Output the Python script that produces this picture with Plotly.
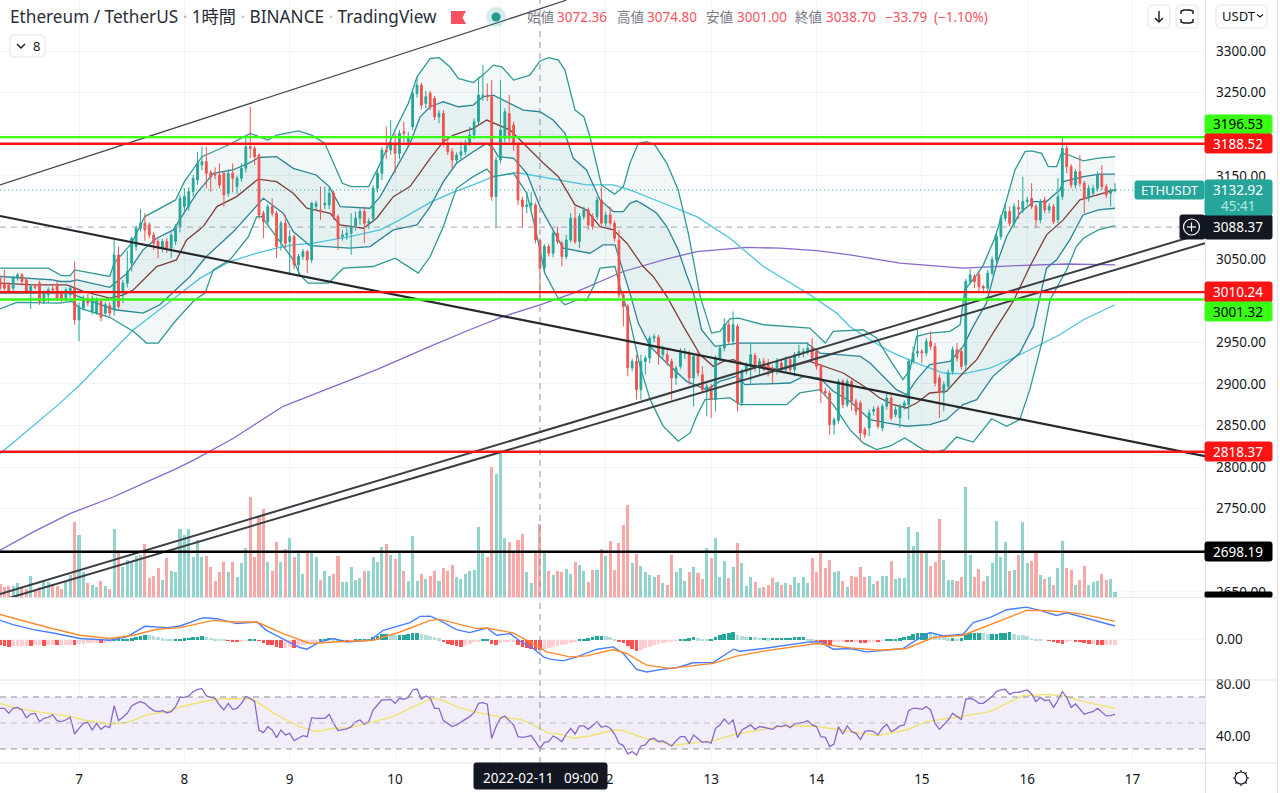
import math
import pandas as pd
import plotly.graph_objects as go

# ETHUSDT 1h candles, one value per hour from 2022-02-06 06:00
opens = [3027,3021,3019,3015,3027,3031,3025,3009,3017,3021,
         2999,3007,3014,3019,3009,3003,3007,3015,2977,2991,
         3003,2987,2985,3001,2985,2994,2989,3055,3009,3021,
         3045,3065,3087,3093,3091,3079,3071,3063,3071,3063,
         3071,3089,3113,3113,3131,3145,3163,3167,3154,3152,
         3151,3153,3129,3153,3137,3147,3159,3185,3183,3175,
         3105,3095,3113,3105,3071,3093,3071,3077,3043,3053,
         3059,3049,3113,3109,3115,3115,3129,3101,3077,3079,
         3081,3089,3099,3107,3093,3099,3135,3153,3181,3181,
         3189,3177,3203,3191,3209,3249,3259,3237,3249,3243,
         3221,3225,3189,3179,3169,3175,3179,3189,3199,3215,
         3245,3247,3245,3125,3169,3195,3225,3211,3187,3121,
         3113,3115,3115,3072.36,3039,3065,3057,3081,3069,3053,
         3073,3099,3071,3101,3109,3101,3101,3121,3093,3103,
         3093,3073,3007,2993,2919,2927,2893,2927,2931,2955,
         2956,2935,2935,2927,2907,2921,2937,2937,2907,2933,
         2911,2893,2897,2881,2931,2943,2971,2951,2969,2877,
         2915,2921,2934,2919,2927,2925,2919,2915,2925,2917,
         2929,2917,2935,2937,2939,2943,2939,2921,2891,2889,
         2851,2856,2903,2875,2903,2879,2877,2845,2847,2867,
         2871,2847,2873,2883,2863,2859,2873,2875,2927,2937,
         2939,2937,2951,2945,2907,2889,2897,2915,2941,2939,
         2923,3023,3029,3031,3017,3015,3033,3049,3077,3099,
         3107,3093,3112,3109,3119,3123,3113,3097,3121,3109,
         3113,3097,3125,3183,3161,3139,3155,3141,3123,3129,
         3135,3151,3137,3129,3132.5]
closes = [3015,3015,3011,3027,3031,3023,3011,3017,3016,2999,
          3009,3013,3013,3003,3001,3013,3015,2977,2993,3003,
          2997,3003,3001,2980,2995,2985,3055,2993,3021,3035,
          3075,3087,3093,3085,3079,3069,3063,3071,3063,3079,
          3089,3123,3125,3131,3147,3165,3167,3153,3149,3151,
          3139,3127,3153,3147,3147,3159,3185,3183,3173,3103,
          3095,3113,3105,3065,3093,3069,3077,3043,3053,3059,
          3049,3117,3117,3107,3117,3129,3101,3075,3079,3081,
          3089,3099,3107,3093,3095,3135,3153,3181,3179,3189,
          3177,3201,3201,3197,3249,3259,3235,3245,3233,3221,
          3225,3189,3179,3169,3175,3179,3189,3199,3215,3247,
          3247,3245,3125,3169,3205,3227,3195,3187,3121,3113,
          3115,3117,3073,3038.7,3065,3057,3081,3071,3053,3073,
          3099,3071,3101,3109,3091,3089,3121,3093,3103,3093,
          3075,3007,2993,2919,2927,2893,2927,2931,2955,2957,
          2935,2943,2927,2907,2919,2937,2939,2907,2933,2913,
          2893,2897,2881,2931,2943,2971,2951,2971,2877,2915,
          2923,2935,2919,2927,2919,2919,2915,2927,2917,2929,
          2917,2935,2939,2939,2943,2931,2921,2891,2889,2851,
          2857,2903,2875,2903,2879,2867,2841,2839,2865,2869,
          2849,2873,2883,2859,2869,2873,2877,2927,2937,2939,
          2937,2951,2945,2901,2889,2899,2913,2941,2931,2921,
          3023,3031,3023,3017,3015,3033,3049,3077,3099,3107,
          3093,3113,3110,3119,3121,3113,3097,3119,3109,3113,
          3095,3125,3183,3161,3139,3155,3141,3123,3135,3135,
          3151,3137,3127,3133,3132.92]
highs = [3030,3037,3022,3030,3033,3033,3027,3020,3019,3024,
         3012,3016,3019,3023,3012,3016,3019,3047,2998,3006,
         3008,3006,3004,3003,2998,2998,3075,3065,3025,3060,
         3077,3090,3110,3105,3094,3082,3074,3074,3075,3082,
         3092,3127,3135,3136,3151,3179,3185,3185,3157,3160,
         3165,3156,3158,3165,3150,3165,3197,3233,3186,3177,
         3108,3116,3123,3108,3096,3103,3085,3080,3056,3062,
         3061,3119,3120,3137,3137,3137,3132,3104,3085,3090,
         3105,3107,3111,3113,3099,3139,3157,3185,3209,3217,
         3201,3205,3215,3203,3253,3269,3262,3252,3252,3246,
         3229,3229,3197,3183,3178,3191,3193,3209,3219,3269,
         3283,3261,3265,3173,3265,3231,3247,3215,3190,3125,
         3131,3131,3118,3074.8,3068,3068,3085,3089,3072,3079,
         3105,3113,3105,3113,3112,3105,3125,3137,3107,3113,
         3096,3085,3010,2996,2930,2935,2935,2934,2958,2960,
         2959,2946,2940,2930,2922,2943,2943,2940,2936,2939,
         2921,2900,2900,2934,2947,2979,2975,2987,2972,2918,
         2926,2949,2937,2931,2931,2930,2923,2931,2929,2933,
         2933,2938,2947,2943,2950,2955,2942,2924,2895,2892,
         2860,2906,2906,2906,2905,2882,2880,2848,2869,2873,
         2874,2876,2889,2889,2873,2876,2880,2930,2945,2965,
         2942,2955,2963,2949,2911,2903,2917,2945,2949,2943,
         3026,3038,3032,3035,3019,3037,3053,3081,3103,3117,
         3113,3117,3121,3149,3125,3141,3116,3122,3125,3117,
         3116,3147,3196,3187,3164,3158,3175,3144,3139,3139,
         3155,3163,3140,3135,3141]
lows = [3012,3012,3008,3010,3024,3018,3008,2990,3013,2995,
        2996,2997,3008,3000,2998,2999,3003,2971,2951,2988,
        2993,2983,2983,2975,2982,2981,2982,2990,2997,3016,
        3035,3060,3083,3072,3075,3061,3051,3058,3057,3051,
        3067,3082,3105,3108,3125,3139,3157,3135,3131,3146,
        3135,3113,3125,3130,3128,3143,3154,3171,3163,3098,
        3075,3090,3101,3051,3060,3063,3031,3038,3031,3049,
        3033,3045,3108,3097,3110,3110,3097,3061,3072,3073,
        3055,3084,3091,3069,3086,3094,3130,3145,3170,3175,
        3153,3170,3190,3185,3205,3244,3230,3231,3229,3217,
        3213,3185,3175,3159,3165,3170,3175,3186,3194,3211,
        3240,3240,3120,3087,3165,3190,3191,3180,3115,3087,
        3105,3110,3069,3001,3033,3053,3052,3068,3041,3050,
        3070,3068,3063,3097,3085,3085,3097,3090,3089,3090,
        3071,3003,2969,2909,2915,2881,2881,2911,2925,2950,
        2923,2930,2922,2881,2899,2918,2930,2899,2873,2909,
        2889,2861,2859,2867,2927,2939,2947,2947,2867,2873,
        2911,2899,2915,2910,2915,2909,2901,2911,2913,2913,
        2913,2909,2931,2932,2935,2927,2917,2877,2885,2839,
        2839,2852,2871,2872,2868,2862,2831,2835,2837,2862,
        2846,2843,2869,2856,2860,2847,2869,2857,2924,2932,
        2925,2933,2941,2897,2859,2867,2893,2911,2927,2917,
        2917,3020,3015,3010,3009,3011,3030,3045,3073,3095,
        3089,3089,3098,3105,3115,3110,3087,3093,3105,3105,
        3092,3093,3121,3153,3135,3135,3137,3105,3119,3125,
        3131,3133,3123,3113,3130]
volumes = [40,32,35,35,42,32,25,65,20,32,
           52,45,40,35,25,50,68,227,188,75,
           43,37,30,48,35,25,205,142,92,112,
           108,125,127,160,58,65,88,53,118,80,
           77,205,188,205,122,172,120,125,92,50,
           77,107,77,105,60,102,148,302,120,245,
           265,105,80,167,105,145,178,120,140,70,
           140,140,122,52,80,65,70,125,45,47,
           90,53,58,80,80,120,105,152,160,127,
           115,140,80,50,183,50,70,55,65,80,
           48,88,80,98,62,55,70,80,82,212,
           138,122,390,370,443,178,165,138,172,190,
           77,43,132,220,138,78,68,78,76,85,
           70,105,98,78,47,82,82,145,125,170,
           83,162,217,277,102,130,95,75,68,62,
           68,42,37,128,75,87,50,75,90,72,
           55,148,118,177,60,110,58,92,164,102,
           35,60,45,27,32,38,58,47,37,44,
           38,62,42,60,42,118,75,140,87,112,
           75,80,50,30,65,60,92,60,65,40,
           48,65,65,110,55,57,58,210,155,195,
           135,135,95,107,236,112,52,53,48,62,
           332,128,62,85,48,65,102,228,120,165,
           80,82,128,225,102,110,133,68,55,60,
           38,88,170,88,82,38,53,93,37,45,
           48,70,52,55,17]
macd_hist = [-5,-5.5,-6.5,-6,-6,-5.5,-5.5,-6,-5,-5,
             -5.5,-5,-4.5,-5,-4.5,-4.5,-4.5,-5,-4,-3.5,
             -3,-3,-2.5,-3,-2.5,-1,0.5,0.5,1,1.5,
             2,3,4.5,5.5,5,4,3,2,1,0.5,
             0.5,1.5,2,2.5,3,3.5,4,3,2.5,1.5,
             1,0.5,-0.5,-1,-1.5,-1,-0.5,0.5,1,-0.5,
             -3,-4.5,-5,-7,-7.5,-7.5,-7,-8,-5.5,-4.5,
             -3.5,-2,-1.5,0.5,1,2.5,2,0.5,-0.5,-1,
             -0.5,0.5,1,1,1.5,3,4.5,6,6.5,6,
             5,5.5,5.5,6,7,7,6,5.5,4.5,3.5,
             2,-2,-3.5,-5,-6,-6.5,-5,-3.5,-2,-1,
             1,1,-3.5,-5,-3,-2,-1.5,-1.5,-5,-6.5,
             -8,-8.5,-9.5,-10,-9,-8,-7,-6,-5,-3.5,
             -2.5,-1,0.5,1.5,2,3,4.5,4.5,4,3,
             1.5,-1,-3,-6,-8.5,-10.5,-9.5,-8,-6.5,-5,
             -3.5,-2.5,-2,-1.5,-0.5,1,1.5,2,3,2,
             1.5,1,1,3.5,5,6.5,7,8,5,4,
             3.5,3.5,3,2.5,2.5,2,2.5,2.5,2.5,2.5,
             2.5,3,3,3,1.5,0.5,-0.5,-2,-4,-4.5,
             -2,-1.5,-1,-1.5,-2,-2,-2.5,-3,-1.5,-1,
             -2,-0.5,0.5,1,1,2,3,4,6,7,
             7,7.5,7,5,4,3,2,2,1.5,2,
             6,7,7.5,7.5,7,6,6,6,7,7.5,
             8,6,5.5,5,4,2.5,1,0.5,0,-0.5,
             -2,-3,-3.5,-0.8,-0.5,-1,-2,-3,-4,-4,
             -4.5,-5,-5,-5,-5]
rsi = [61.3,61.3,57.4,61.3,62,60,54.1,56.9,57.4,51,
       53.6,54.4,56.2,51.8,51,52.3,54.4,41.5,45.9,49.7,
       50.5,44.6,49.7,45.1,47.7,46.4,63.3,51.8,54.4,57.4,
       63.1,65.1,66.4,65.1,62,59.5,58.7,59.5,57.9,58.7,
       62.6,69.7,69.7,70.8,74.1,75.9,76.4,70.8,69.7,69,
       63.8,60,65.1,60.5,61.3,65.1,70.3,69,66.4,44.6,
       42.6,47.2,44.6,38.7,44.6,40.8,42,36.4,38.2,40.3,
       39.5,54.1,53.6,53.6,53.6,56.7,49.7,44.1,44.6,45.4,
       47.2,51,52.3,49,51,60,63.8,67.7,67.7,68.2,
       65.1,69,68.2,69.7,75.4,76.1,68.2,70.8,69,61.3,
       61.3,51.8,49.7,47.2,48.5,50.5,52.8,54.9,57.9,65.1,
       65.6,64.4,38.2,47.2,53.6,55.4,51.8,48.5,39.5,39,
       39.5,40.3,35.6,30.5,35.1,35.6,40,38.2,35.6,41.5,
       45.9,41.5,47.7,47.7,45.1,47.7,51,46.7,47.7,45.9,
       41.5,34.4,32.6,26.2,28,25.4,32.3,33.1,37.4,38.2,
       35.6,36.2,34.4,32.3,36.2,39.5,39.5,34.4,40.8,38.2,
       35.1,35.6,34.4,45.9,48.5,53.1,49.2,52.3,38.7,44.6,
       46.4,48.5,45.1,47.2,46.7,45.9,45.1,47.7,47.2,48.5,
       46.4,49.2,49.7,50.5,51.8,48.5,47.2,39.5,39,31.8,
       33.8,47.2,41.5,47.7,43.3,42,37.4,43.3,44.1,43.3,
       40.8,45.9,49,43.3,45.1,47.7,48.5,59.5,61.3,61.3,
       60.5,62.6,60,49.7,45.1,48.5,52.3,57.4,54.9,52.8,
       68.2,69,67.7,65.1,65.1,67.7,70.3,74.1,75.4,75.9,
       72,73.6,73.6,74.6,75.4,72.3,66.4,69.7,67.2,67.7,
       61.8,67.7,74.1,69.7,62,64.6,60.5,56.7,57.9,58.7,
       61.3,58.7,55.4,55.6,56.7]

# indicator lines, read at the bends: hour index since the first bar, then value
outer_up_i = [0,11,14,16,17,25,26,30,33,40,42,46,52,57,61,63,68,71,74,78,80,84,87,90,93,95,98,100,102.5,104.4,
              107.8,110,112.4,114.3,117,120.7,123,125,127.2,128.7,131,133,134.4,137,140,142,143.5,145.4,147.3,149.2,
              151.9,154.5,156.8,159.5,162.1,164,166.3,168.2,173.9,182.2,184.5,188,189.8,196.6,199.7,202.7,205.7,207.3,208.8,211.8,
              216.4,218.7,219.8,222.5,224,226.6,229.3,231.2,233.5,235,237.3,238.8,240.7,241.8,243.5,246.8,249.8,254]
outer_up = [3039,3039,3030,3030,3037,3029,3045,3069,3101,3121,3143,3173,3187,3201,3193,3199,3204,3199,3189,3141,3137,3137,3169,3205,3237,3269,3291,3292,3281,3267,
            3262,3271,3283,3281,3265,3271,3288,3292,3289,3277,3229,3221,3197,3139,3128,3137,3165,3189,3191,3187,
            3165,3133,3081,3005,2961,2963,2978,2979,2971,2968,2967,2949,2963,2965,2955,2929,2905,2917,2957,2961,
            2963,2971,3013,3031,3043,3075,3121,3157,3179,3180,3177,3161,3161,3177,3175,3168,3171,3173]
inner_up_i = [0,12,13.7,16,17.5,25,29,32.6,35.7,39.5,41.4,44.8,48.6,53,56.6,59,63,66.8,72,75,77.5,84.3,86.6,89.6,93.4,95.7,98,101,104.4,107.8,
              110,112.4,116.2,119.2,123,126,128.7,130.6,133.6,135.2,136.7,139.7,142,143.5,145,147.3,149.6,151.9,154.5,156.4,
              158,159.8,162.9,168.2,183.8,186.8,196,198.2,201.2,204.2,206.5,208.8,211.8,216.4,219.4,221.7,224.7,227,229.3,232.3,
              235.4,238.4,241.4,242.2,246.8,250.5,254]
inner_up = [3029,3025,3023,3023,3025,3016,3033,3061,3075,3085,3101,3129,3153,3157,3165,3172,3173,3159,3151,3137,3113,3111,3125,3153,3189,3221,3233,3239,3233,3235,
            3245,3247,3237,3229,3227,3217,3201,3171,3157,3139,3121,3107,3107,3117,3120,3113,3105,3089,3061,3031,
            3009,2965,2945,2949,2949,2937,2933,2925,2909,2893,2887,2905,2923,2927,2945,2969,2997,3043,3077,3105,
            3119,3119,3133,3143,3149,3152,3152]
basis_i = [0,7.6,15.2,19,25,28.1,30.4,35.7,40.2,42.5,46.3,49.4,53.9,58.8,63,66.8,69.9,75.2,77.4,82.8,85.8,89.6,93.4,98,
           101,103.3,107.8,110.9,116.2,120,123.8,127.2,131,133.6,136.7,139.7,142.8,146.5,148.8,151.9,
           155.7,159.5,162.5,164.8,167,170.1,177.7,184.5,186.8,192.1,197.4,200.4,203.5,206.5,208.8,211.8,215.6,219.4,222.5,226.2,
           230.8,234.6,238.4,242.2,246,249.8,254]
basis = [3021,3019,3019,3011,3003,3007,3013,3041,3049,3073,3089,3113,3125,3146,3143,3129,3111,3105,3091,3087,3099,3125,3137,3171,
         3191,3199,3207,3217,3205,3185,3165,3149,3115,3109,3089,3085,3069,3041,3029,3005,
         2969,2935,2921,2927,2929,2923,2917,2927,2923,2913,2895,2883,2875,2871,2877,2889,2891,2913,2929,2961,
         2999,3041,3079,3097,3121,3127,3133]
inner_low_i = [0,6.8,13.7,16.3,17.8,25,26.2,32.6,36.4,43.3,47,53.2,60,64.5,66.8,70.6,79.7,84.3,89.6,95,98,101,104,107.8,110.9,112.4,113.5,117,120,123,
               126,128.3,134.4,137.4,140.1,143.5,145.4,148.1,151.1,156.4,161,164,167.8,169.7,180,183,186.8,189.8,193.6,198.2,
               202,206.5,211.8,215.6,219.4,222.5,226.2,232.3,235.4,238.4,240.7,243.7,246.7,250.2,254]
inner_low = [3009,3009,3009,3009,3005,2991,2989,2985,2995,3029,3053,3083,3123,3105,3083,3066,3063,3065,3085,3091,3113,3143,3165,3179,3189,3183,3173,3171,3153,3113,
             3085,3063,3057,3067,3067,3009,2973,2945,2929,2903,2893,2903,2909,2899,2901,2909,2907,2891,2879,2857,
             2853,2849,2851,2857,2875,2881,2909,2937,2969,3039,3049,3073,3103,3109,3111]
outer_low_i = [0,3.8,13.7,16.3,18.2,25,30.4,33.4,36,40.2,44.4,46.7,48.6,52.4,56.6,58.5,59.6,62.3,66.8,68.3,70.2,74.8,78.2,85,90,95.3,98,101,104,107.8,
               110.9,112.4,117,120,122.2,124.1,127.2,128.7,131.4,133.6,135.2,136.7,140.1,141.6,143.1,145.8,148.1,151.1,154.5,157.2,
               158.7,160.6,166.3,168.6,179.2,182.2,186.8,189.8,193.6,196.6,199.7,202.7,206.1,210.3,212.6,215.2,217.9,221.7,225.9,229.3,
               232.3,234.6,237.3,239.2,243,245.2,246.8,250.2,254]
outer_low = [2990,2998,2997,2999,2991,2980,2963,2949,2949,2977,3001,3009,3037,3049,3077,3101,3101,3081,3049,3031,3021,3021,3039,3041,3051,3033,3053,3089,3135,3149,
             3158,3149,3153,3129,3081,3033,3002,2995,3001,3000,3017,3039,3041,3009,2985,2921,2881,2849,2831,2841,
             2861,2881,2883,2875,2875,2889,2893,2875,2845,2829,2821,2825,2835,2821,2817,2821,2836,2830,2858,2849,
             2857,2893,2949,3001,3037,3065,3075,3085,3090]
ma_cyan_i = [0,13.3,18.2,30.4,40.2,45.6,52.4,58.5,63,66.8,71.4,79.7,86.6,91.1,98,103.6,107.8,112.4,117.7,126.8,133.6,139.7,143.5,151.1,158.7,166.3,173.9,184.5,190.6,193.6,
             198.2,202.7,208.8,214.9,219.4,225.5,230.8,236.9,241.4,246.8,254]
ma_cyan = [2816,2875,2899,2965,3005,3027,3047,3057,3063,3067,3069,3077,3085,3097,3118,3131,3139,3149,3154,3145,3139,3139,3133,3117,3101,3075,3041,3007,2985,2969,
           2953,2939,2925,2913,2912,2919,2931,2947,2959,2977,2995]
ma_purple_i = [0,7.6,15.9,25.8,34.2,40.2,44,53,64.5,76,85.8,98,107,114.7,123,130.6,142,151.1,158.7,170,177.7,186,193.6,205,219.4,231.6,243,254]
ma_purple = [2700,2722,2744,2764,2784,2798,2808,2834,2873,2897,2917,2945,2965,2981,2995,3009,3035,3049,3059,3064,3063,3060,3055,3045,3039,3042,3044,3043]
macd_i = [0,3,7.6,12.1,18.2,25,28.9,33,38,41,46.3,49.4,53.9,58.5,60.7,64.5,68.3,69.9,72.9,75.9,79,84.3,87.3,93.4,95.7,98,
          100.2,104,107,110.9,113.1,116.2,118.5,121.5,123.8,125.3,128.3,131.4,136,139.7,142,145,147.3,151.1,154.1,157.9,162.5,167.1,168.6,173.9,184.5,186.8,189.8,193.6,
          197.4,200.4,205.7,209.9,211.8,214.9,219.4,221.7,225.5,229.3,233.8,236.9,240.7,243,246.8,250.5,254]
macd = [19.5,15.2,10.2,6.8,1.2,-0.5,2.8,13.5,12.2,13.8,22.2,21.2,16.2,17.8,9.5,1.2,-7.8,-9.5,-2.2,1.2,-2.2,-0.5,9.5,17.2,23.5,23.8,
        19.5,10.2,7.2,11.8,4.5,6.2,-1.5,-8.8,-17.2,-19.5,-21.2,-17.2,-9.5,-7.2,-13.8,-29.8,-32.5,-29.5,-28.2,-23.2,-22.8,-9.5,-11.5,-8.8,-2.2,-2.2,-9.5,-8.8,
        -12.2,-11.2,-8.8,2.8,7.2,3.8,5.5,17.2,22.2,30.2,32.8,29.5,24.5,27.2,22.8,18.5,13.8]
macd_signal_i = [0,6.1,11.4,18.2,25,30.4,35.7,41,48.6,53.2,58.5,64.5,70.6,75.9,85,91.1,98,
                 100.2,104.8,108.6,110.9,116.9,120.7,124.5,129.8,133.6,139.7,142.7,147.3,152.6,162.5,167.8,173.9,186,193.6,
                 200.4,206.5,212.6,219.4,227,233.8,237.6,243,246.8,254]
macd_signal = [25.5,17.8,11.8,4.5,1.2,4.5,10.5,12.2,19.5,17.8,17.8,6.2,-3.8,-2.2,-0.5,7.8,19.5,
               20.5,15.2,11.2,11.8,6.8,-2.2,-12.2,-17.2,-16.2,-9.8,-13.8,-25.5,-28.8,-23.8,-16.5,-11.5,-3.8,-8.2,
               -10.5,-8.8,2.2,4.5,17.8,29.5,29.5,27.8,25.5,18.5]
rsi_ma_i = [0,3.8,8.4,16.3,19,25,29.2,33.4,38,41.8,45.6,49.4,53.2,57.7,63,68.3,72.1,75.9,79.7,83.5,89.6,94.2,98,
            100.2,104,107.8,111.6,114.3,118.5,121.5,125,127.6,130.6,134.4,139.7,142,146.5,153.4,157.2,162.5,167.8,173.9,177.7,184.5,189.1,193.6,
            197.4,200,206.5,211,218.7,225.5,229.3,233.1,238.4,242.2,246.8,254]
rsi_ma = [65.1,61.3,58.7,54.9,52.3,49,50.5,56.2,58.7,63.1,65.9,68.2,68.7,68.2,56.2,47.2,43.3,45.9,46.4,49.7,54.9,62.6,68.2,
          68.2,62.6,58.7,56.2,54.4,52.8,48.5,42,41.3,38.2,40,44.6,44.1,38.7,32.6,34.4,36.4,41.5,45.1,47.2,47.9,45.9,43.3,
          41.5,40.3,44.6,51,54.9,58.7,65.1,71,72,70.8,66.4,61.3]

# drawings on the chart, (start hour, start price, end hour, end price)
trend_lines = [(0, 3139, 129, 3361, "#444a52", 1.3),
               (0, 3101.7, 274.5, 2813.2, "#26282c", 2.2),
               (0, 2647.4, 274.5, 3081.7, "#3a3d42", 2),
               (0, 2639.4, 274.5, 3069, "#3a3d42", 2)]
green_levels = [3196.53, 3001.32]
red_levels = [3188.52, 3010.24, 2818.37]
black_level = 2698.19
last_price = 3132.92
cross_price = 3088.37
cross_hour = 123

day_ticks = [18 + 24 * d for d in range(11)]
# 11 sits under the crosshair date label, as in the picture
day_labels = ["7", "8", "9", "10", "", "12", "13", "14", "15", "16", "17"]
price_ticks = [3300, 3250, 3200, 3150, 3100, 3050, 3000, 2950, 2900, 2850, 2800, 2750, 2700, 2650]
# these round prices keep their grid line but their text is covered by the level labels
hidden_price_labels = [3200, 3100, 3000, 2700]

for a, b in [(opens, closes), (opens, highs), (opens, lows), (opens, volumes), (opens, macd_hist), (opens, rsi),
             (outer_up_i, outer_up), (inner_up_i, inner_up), (basis_i, basis), (inner_low_i, inner_low),
             (outer_low_i, outer_low), (ma_cyan_i, ma_cyan), (ma_purple_i, ma_purple), (macd_i, macd),
             (macd_signal_i, macd_signal), (rsi_ma_i, rsi_ma)]:
    assert len(a) == len(b), (len(a), len(b))

T0 = pd.Timestamp("2022-02-06 06:00")
UP = "#26a69a"
DOWN = "#ef5350"
FONT = "Noto Sans, Noto Sans CJK JP, sans-serif"
TEXT = "#131722"
GRID = "#f0f3fa"
EDGE = "#e0e3eb"
PW, PH = 1205, 763


def t(hours):
    return (T0 + pd.to_timedelta(hours, unit="h")).strftime("%Y-%m-%d %H:%M:%S").tolist()


def t1(hour):
    return t([hour])[0]


def px(x):
    return x / PW


def py(y):
    return 1 - y / PH


def rrect(x0, y0, x1, y1, r, fill, line=None):
    p = (f"M{px(x0 + r)},{py(y0)} L{px(x1 - r)},{py(y0)} Q{px(x1)},{py(y0)} {px(x1)},{py(y0 + r)} "
         f"L{px(x1)},{py(y1 - r)} Q{px(x1)},{py(y1)} {px(x1 - r)},{py(y1)} L{px(x0 + r)},{py(y1)} "
         f"Q{px(x0)},{py(y1)} {px(x0)},{py(y1 - r)} L{px(x0)},{py(y0 + r)} Q{px(x0)},{py(y0)} {px(x0 + r)},{py(y0)} Z")
    return dict(type="path", path=p, xref="paper", yref="paper", fillcolor=fill, layer="above",
                line=dict(color=line or fill, width=1))


def stroke(points, color=TEXT, width=1.4):
    p = "M" + " L".join(f"{px(x)},{py(y)}" for x, y in points)
    return dict(type="path", path=p, xref="paper", yref="paper", layer="above", line=dict(color=color, width=width))


def hline(x0, x1, y, color=EDGE):
    return dict(type="line", xref="paper", yref="paper", x0=px(x0), x1=px(x1), y0=py(y), y1=py(y),
                layer="above", line=dict(color=color, width=1))


def label(x, y, text, color=TEXT, size=13, anchor="left"):
    return dict(xref="paper", yref="paper", x=px(x), y=py(y), text=text, showarrow=False, xanchor=anchor,
                yanchor="middle", font=dict(family=FONT, size=size, color=color), borderpad=0)


fig = go.Figure()

# volume sits at the back on its own hidden axis
fig.add_trace(go.Bar(x=t(list(range(len(volumes)))), y=volumes, width=2500000, yaxis="y", xaxis="x",
                     marker=dict(color=["#93d3cd" if c >= o else "#f7a9a7" for o, c in zip(opens, closes)],
                                 line_width=0)))


def band(up_i, up, low_i, low):
    fig.add_trace(go.Scatter(x=t(up_i) + t(low_i)[::-1], y=up + low[::-1], yaxis="y2", xaxis="x", mode="none",
                             fill="toself", fillcolor="rgba(34,140,140,0.06)"))


band(outer_up_i, outer_up, outer_low_i, outer_low)
band(inner_up_i, inner_up, inner_low_i, inner_low)


def line(i, v, color, axis="y2", xaxis="x", width=1.3):
    fig.add_trace(go.Scatter(x=t(i), y=v, yaxis=axis, xaxis=xaxis, mode="lines", line=dict(color=color, width=width)))


line(ma_purple_i, ma_purple, "#8a67cc")
line(ma_cyan_i, ma_cyan, "#4cc3dc")
line(outer_up_i, outer_up, "#2f9a94")
line(outer_low_i, outer_low, "#2f9a94")
line(inner_up_i, inner_up, "#2b8596")
line(inner_low_i, inner_low, "#2b8596")
line(basis_i, basis, "#7d3f3a")

fig.add_trace(go.Candlestick(x=t(list(range(len(opens)))), open=opens, high=highs, low=lows, close=closes,
                             yaxis="y3", xaxis="x", whiskerwidth=0,
                             increasing=dict(line=dict(color=UP, width=1), fillcolor=UP),
                             decreasing=dict(line=dict(color=DOWN, width=1), fillcolor=DOWN)))

# MACD pane
hist_colors = []
prev = 0
for h in macd_hist:
    if h >= 0:
        hist_colors.append("#26a69a" if h >= prev else "#b2dfdb")
    else:
        hist_colors.append("#ff5252" if h < prev else "#ffcdd2")
    prev = h
fig.add_trace(go.Bar(x=t(list(range(len(macd_hist)))), y=macd_hist, width=3000000, yaxis="y4", xaxis="x2",
                     marker=dict(color=hist_colors, line_width=0)))
line(macd_i, macd, "#4a7dff", "y4", "x2", 1.4)
line(macd_signal_i, macd_signal, "#ff8a2b", "y4", "x2", 1.4)

# RSI pane
line(rsi_ma_i, rsi_ma, "#f2e26e", "y5", "x3", 1.4)
line(list(range(len(rsi))), rsi, "#8a67cc", "y5", "x3", 1.3)

shapes = []
shapes.append(dict(type="rect", xref="x3 domain", yref="y5", x0=0, x1=1, y0=30, y1=70, layer="below",
                   fillcolor="rgba(126,87,194,0.1)", line_width=0))
for lvl, col in [(70, "#8f929c"), (50, "#bfc1c8"), (30, "#8f929c")]:
    shapes.append(dict(type="line", xref="x3 domain", yref="y5", x0=0, x1=1, y0=lvl, y1=lvl, layer="above",
                       line=dict(color=col, width=1, dash="6px,5px")))
shapes.append(dict(type="line", xref="x domain", yref="y2", x0=0, x1=1, y0=last_price, y1=last_price, layer="above",
                   line=dict(color=UP, width=1, dash="1px,3px")))
shapes.append(dict(type="line", xref="paper", yref="y2", x0=0, x1=px(1180), y0=cross_price, y1=cross_price,
                   layer="above", line=dict(color="#a3a6af", width=1, dash="6px,5px")))
shapes.append(dict(type="line", xref="x", yref="paper", x0=t1(cross_hour), x1=t1(cross_hour), y0=0, y1=1,
                   layer="above", line=dict(color="#8f929c", width=1, dash="6px,5px")))
for h0, p0, h1, p1, col, w in trend_lines:
    shapes.append(dict(type="line", xref="x", yref="y2", x0=t1(h0), y0=p0, x1=t1(h1), y1=p1, layer="above",
                       line=dict(color=col, width=w)))
for lvl in green_levels:
    shapes.append(dict(type="line", xref="x domain", yref="y2", x0=0, x1=1, y0=lvl, y1=lvl, layer="above",
                       line=dict(color="#39ff14", width=2.4)))
for lvl in red_levels:
    shapes.append(dict(type="line", xref="x domain", yref="y2", x0=0, x1=1, y0=lvl, y1=lvl, layer="above",
                       line=dict(color="#fa1414", width=2.4)))
shapes.append(dict(type="line", xref="x domain", yref="y2", x0=0, x1=1, y0=black_level, y1=black_level, layer="above",
                   line=dict(color="#000000", width=2.4)))

# pane borders
shapes += [hline(0, 1277, 597.5), hline(0, 1277, 680), hline(0, 1277, 763)]
shapes.append(dict(type="line", xref="paper", yref="paper", x0=px(1205.5), x1=px(1205.5), y0=py(0), y1=py(793),
                   layer="above", line=dict(color=EDGE, width=1)))
shapes.append(dict(type="line", xref="paper", yref="paper", x0=px(1277.5), x1=px(1277.5), y0=py(0), y1=py(793),
                   layer="above", line=dict(color=EDGE, width=1)))

# price labels on the right scale
annos = []
for y0, y1, fill, txt, col in [(115, 134, "#39ff14", "3196.53", "#000000"),
                               (134, 153, "#fa1414", "3188.52", "#ffffff"),
                               (282, 302, "#fa1414", "3010.24", "#ffffff"),
                               (302, 321, "#39ff14", "3001.32", "#000000"),
                               (442, 461, "#fa1414", "2818.37", "#ffffff"),
                               (542, 561, "#000000", "2698.19", "#ffffff"),
                               (215, 239, "#131722", "3088.37", "#ffffff")]:
    shapes.append(rrect(1205, y0, 1272, y1, 2, fill))
    annos.append(label(1238.5, (y0 + y1) / 2, txt, col, 13.5, "center"))
shapes.append(rrect(1205, 592, 1272, 597, 1, "#000000"))
shapes.append(rrect(1205, 180, 1272, 215, 2, UP))
annos.append(label(1238.5, 190, "3132.92", "#ffffff", 13.5, "center"))
annos.append(label(1238.5, 206, "45:41", "#b5e3de", 13.5, "center"))
shapes.append(rrect(1135, 181, 1204, 199, 2, UP))
annos.append(label(1169.5, 190, "ETHUSDT", "#ffffff", 13, "center"))

# crosshair plus button
shapes.append(rrect(1180, 215, 1205, 239, 2, "#131722"))
shapes.append(dict(type="circle", xref="paper", yref="paper", x0=px(1183.5), x1=px(1199.5), y0=py(219), y1=py(235),
                   layer="above", line=dict(color="#ffffff", width=1.2)))
shapes.append(stroke([(1187, 227), (1196, 227)], "#ffffff", 1.2))
shapes.append(stroke([(1191.5, 222.5), (1191.5, 231.5)], "#ffffff", 1.2))

# crosshair date label
shapes.append(rrect(474, 763, 607, 789, 2, "#131722"))
annos.append(label(540.5, 778, "2022-02-11 &nbsp; 09:00", "#ffffff", 13.5, "center"))

# header
annos.append(label(9, 17, "Ethereum / TetherUS <span style='color:#b2b5be'>·</span> 1時間 "
                          "<span style='color:#b2b5be'>·</span> BINANCE <span style='color:#b2b5be'>·</span> TradingView",
                   "#2a2e39", 17.2))
shapes.append(dict(type="path", xref="paper", yref="paper", layer="above", fillcolor="#f7525f", line_width=0,
                   path=f"M{px(451)},{py(11)} L{px(466)},{py(11)} L{px(462.5)},{py(17.5)} L{px(466)},{py(24)} L{px(451)},{py(24)} Z"))
shapes.append(dict(type="circle", xref="paper", yref="paper", layer="above", fillcolor="rgba(38,166,154,0.2)", line_width=0,
                   x0=px(486), x1=px(506), y0=py(7), y1=py(27)))
shapes.append(dict(type="circle", xref="paper", yref="paper", layer="above", fillcolor="#1f9a8e", line_width=0,
                   x0=px(491.5), x1=px(500.5), y0=py(12.5), y1=py(21.5)))
for x, txt, col in [(526, "始値", "#787b86"), (556, "3072.36", "#f7525f"),
                    (616, "高値", "#787b86"), (646, "3074.80", "#f7525f"),
                    (705, "安値", "#787b86"), (736, "3001.00", "#f7525f"),
                    (794, "終値", "#787b86"), (825, "3038.70", "#f7525f"),
                    (884, "−33.79", "#f7525f"), (933, "(−1.10%)", "#f7525f")]:
    annos.append(label(x, 17, txt, col, 13.5))

# toolbar buttons
shapes.append(rrect(10, 35, 45, 57, 4, "#ffffff", EDGE))
shapes.append(stroke([(17, 44), (21, 48), (25, 44)]))
annos.append(label(32, 46, "8", TEXT, 13))
shapes.append(rrect(1148, 5, 1170, 28, 4, "#ffffff", EDGE))
shapes.append(stroke([(1159, 11), (1159, 22)]))
shapes.append(stroke([(1155, 18), (1159, 22), (1163, 18)]))
shapes.append(rrect(1176, 5, 1198, 28, 4, "#ffffff", EDGE))
shapes.append(stroke([(1181, 14), (1181, 11), (1184, 10), (1190, 10), (1193, 11), (1193, 14)]))
shapes.append(stroke([(1181, 19), (1181, 22), (1184, 23), (1190, 23), (1193, 22), (1193, 19)]))
shapes.append(rrect(1216, 5, 1267, 28, 4, "#ffffff", EDGE))
annos.append(label(1221, 16, "USDT", TEXT, 13))
shapes.append(stroke([(1257, 14.5), (1260, 17), (1263, 14.5)], TEXT, 1.1))

# settings icon
shapes.append(dict(type="circle", xref="paper", yref="paper", x0=px(1235), x1=px(1247), y0=py(772), y1=py(784),
                   layer="above", line=dict(color=TEXT, width=1.2)))
for k in range(8):
    a = k * math.pi / 4
    shapes.append(stroke([(1241 + 6 * math.cos(a), 778 + 6 * math.sin(a)),
                          (1241 + 8 * math.cos(a), 778 + 8 * math.sin(a))], TEXT, 1.2))

x_common = dict(type="date", range=[t1(0), t1(274.5)], showgrid=True, gridcolor=GRID, gridwidth=1,
                tickmode="array", tickvals=t(day_ticks), ticktext=day_labels, ticks="", showline=False,
                zeroline=False, rangeslider=dict(visible=False), tickfont=dict(family=FONT, size=13.5, color=TEXT))
price_range = [2643.2, 3361.3]
y_price = dict(domain=[1 - 597.5 / PH, 1], range=price_range, fixedrange=True)

fig.update_layout(
    width=1280, height=793, margin=dict(l=0, r=75, t=0, b=30, autoexpand=False),
    paper_bgcolor="#ffffff", plot_bgcolor="#ffffff",
    showlegend=False, bargap=0, boxgap=0.42, hovermode=False, shapes=shapes, annotations=annos,
    xaxis=dict(x_common, anchor="y", showticklabels=False),
    xaxis2=dict(x_common, anchor="y4", matches="x", showticklabels=False),
    xaxis3=dict(x_common, anchor="y5", matches="x", showticklabels=True, ticklabelstandoff=6),
    yaxis=dict(y_price, range=[0, 1791], visible=False),
    yaxis2=dict(y_price, overlaying="y", side="right", anchor="x", tickmode="array", tickvals=price_ticks,
                ticktext=["" if p in hidden_price_labels else f"{p:.2f}" for p in price_ticks],
                showgrid=True, gridcolor=GRID, zeroline=False,
                ticks="", ticklabelstandoff=10, tickfont=dict(family=FONT, size=13.5, color=TEXT)),
    yaxis3=dict(y_price, overlaying="y", visible=False),
    yaxis4=dict(domain=[1 - 680 / PH, 1 - 598.5 / PH], range=[-40.5, 41.5], anchor="x2", side="right",
                tickmode="array", tickvals=[0], ticktext=["0.00"], showgrid=True, gridcolor=GRID, zeroline=False,
                ticks="", ticklabelstandoff=10, tickfont=dict(family=FONT, size=13.5, color=TEXT)),
    yaxis5=dict(domain=[0, 1 - 681 / PH], range=[19.2, 82.3], anchor="x3", side="right",
                tickmode="array", tickvals=[80, 40], ticktext=["80.00", "40.00"], showgrid=True, gridcolor=GRID,
                zeroline=False, ticks="", ticklabelstandoff=10, tickfont=dict(family=FONT, size=13.5, color=TEXT)),
)

fig.write_html("out.html", config={"displayModeBar": False},
               post_script="document.body.style.margin='0';document.body.style.overflow='hidden';")
